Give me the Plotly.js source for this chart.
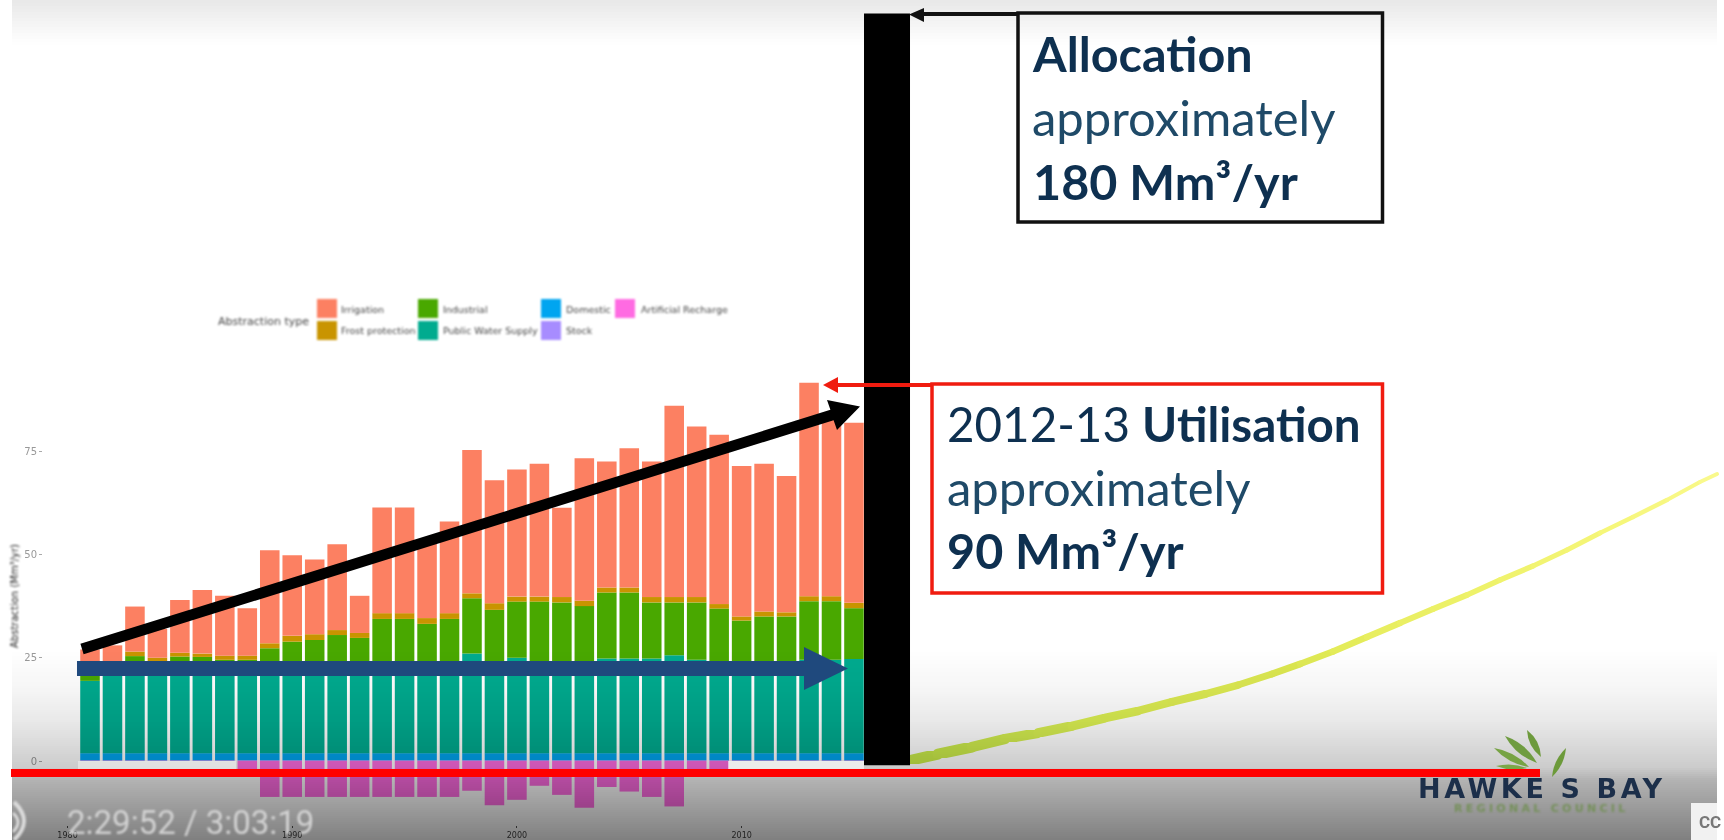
<!DOCTYPE html>
<html><head><meta charset="utf-8">
<script src="https://cdn.plot.ly/plotly-3.0.1.min.js"></script>
<style>html,body{margin:0;padding:0;background:#fff;overflow:hidden}#chart{width:1724px;height:840px}</style>
</head><body><svg id="defs" width="0" height="0" style="position:absolute"><defs></defs></svg><div id="chart"></div>
<script>
// ---- data ----
const years = [1981,1982,1983,1984,1985,1986,1987,1988,1989,1990,1991,1992,1993,1994,1995,1996,1997,1998,1999,2000,2001,2002,2003,2004,2005,2006,2007,2008,2009,2010,2011,2012,2013,2014,2015];
const stock = [0.2,0.2,0.2,0.2,0.2,0.2,0.2,0.2,0.2,0.2,0.2,0.2,0.2,0.2,0.2,0.2,0.2,0.2,0.2,0.2,0.2,0.2,0.2,0.2,0.2,0.2,0.2,0.2,0.2,0.2,0.2,0.2,0.2,0.2,0.2];
const domestic = [1.7,1.7,1.7,1.7,1.7,1.7,1.7,1.7,1.7,1.7,1.7,1.7,1.7,1.7,1.7,1.7,1.7,1.7,1.7,1.7,1.7,1.7,1.7,1.7,1.7,1.7,1.7,1.7,1.7,1.7,1.7,1.7,1.7,1.7,1.7];
const publicSupply = [17.5,20.1,20.6,20.6,21.1,21.1,21.1,19.1,21.1,21.6,22.1,22.1,22.1,22.1,22.1,22.1,22.1,24.1,22.1,23.1,22.3,22.1,22.1,22.9,22.9,22.9,23.7,22.6,22.1,22.1,22.1,22.1,22.6,22.6,22.8];
const industrial = [2.6,1,2.9,1.5,2.3,2.2,1.5,3.5,4.3,5.4,5.3,6.5,5.8,10.4,10.4,9.2,10.4,13.4,12.6,13.6,14.4,14.4,13.5,16,16,13.6,12.8,13.9,12.9,10,11,11,14.2,14.2,12.3];
const frost = [1,1,1.1,1,0.9,0.8,1,1,1.2,1.4,1.4,1.2,1.2,1.4,1.4,1.4,1.4,1.2,1.6,1.2,1.2,1.3,1.3,1.2,1.2,1.3,1.3,1.3,1.1,1,1.2,1,1.2,1.2,1.3];
const irrigation = [4,4,10.9,7,12.8,15.4,14.5,11.5,22.5,19.5,18.1,20.8,9,25.6,25.6,18.9,22.2,34.7,29.8,30.8,32.2,21.6,34.5,30.5,33.7,32.8,46.3,41.3,41,36.4,35.8,33,51.7,44.1,43.6];
const recharge = [0,0,0,0,0,0,0,-3.8,-8.7,-8.7,-8.7,-8.7,-8.7,-8.7,-8.7,-8.7,-8.7,-7.2,-10.7,-9.4,-6,-8.2,-11.3,-6.3,-7.4,-8.7,-11,-3,-2.5,0,0,0,0,0,0];
const allocationX = [2016.47,2016.47];
const allocationY = [-1,181];
const curveX = [2017.58,2018.74,2020.25,2021.72,2023.19,2024.7,2026.17,2027.64,2029.15,2030.62,2032.09,2033.6,2034.85,2036.32,2037.83,2039.3,2040.77,2042.28,2043.75,2045.22,2046.73,2048.2,2049.67,2051.18,2052.65,2053.41];
const curveY = [0.24,1.69,3.39,5.33,6.78,8.47,10.41,12.11,14.29,16.22,18.4,21.07,23.49,26.51,30.02,33.41,36.8,40.19,43.83,47.22,51.09,55.21,59.08,63.2,67.55,69.49];
const curveWidths = [11,11,10.5,10,9.5,9,8.5,8,8,7.5,7,7,6.5,6.5,6.5,6,6,5.5,5.5,5,5,4.5,4.5,4,4];
const curveColors = ['#c8ea49','#cbeb4b','#cfec4d','#d3ed4f','#d7ee51','#dbf052','#dcef52','#dded52','#ddeb52','#ddeb52','#dde952','#dde850','#e0ea55','#e4ec5a','#e8ee60','#eaef64','#ecf167','#eef26a','#f0f36e','#f2f472','#f4f576','#f6f77a','#f7f780','#f8f885','#f9f98c'];
const xTicks = [1980,1990,2000,2010];
const yTicks = [0,25,50,75];
const seriesColors = {irrigation:'#fc8062',frost:'#c99400',industrial:'#49a800',publicSupply:'#00ab8f',domestic:'#00a5f0',stock:'#a78cff',recharge:'#ff6be2'};

// ---- page pixels to paper fractions ----
const W = 1724, H = 840;
const X = p => p / W, Y = p => 1 - p / H;
const path = pts => 'M' + pts.map(q => X(q[0]).toFixed(5) + ',' + Y(q[1]).toFixed(5)).join(' L') + ' Z';
const qpath = s => s.replace(/(-?[\d.]+),(-?[\d.]+)/g, (m, a, b) => X(+a).toFixed(5) + ',' + Y(+b).toFixed(5));

const bar = (name, y, color) => ({type:'bar', name, x:years, y, marker:{color, line:{width:0}}, hoverinfo:'x+y+name'});
const traces = [
  bar('Stock', stock, seriesColors.stock),
  bar('Domestic', domestic, seriesColors.domestic),
  bar('Public Water Supply', publicSupply, seriesColors.publicSupply),
  bar('Industrial', industrial, seriesColors.industrial),
  bar('Frost protection', frost, seriesColors.frost),
  bar('Irrigation', irrigation, seriesColors.irrigation),
  bar('Artificial Recharge', recharge, seriesColors.recharge)
];
for (let i = 0; i < curveX.length - 1; i++) {
  traces.push({type:'scatter', mode:'lines', x:[curveX[i],curveX[i+1]], y:[curveY[i],curveY[i+1]],
    line:{color:curveColors[i], width:curveWidths[i]}, hoverinfo:'skip', showlegend:false});
}
traces.push({type:'scatter', mode:'lines', name:'Allocation', x:allocationX, y:allocationY, line:{color:'#000', width:46}, hoverinfo:'name'});

const shapes = [];
const shapeBlur = {};
const mark = s => { shapeBlur[shapes.length] = s; };
const paperRect = (x0,y0,x1,y1,fill,opacity) => shapes.push({type:'rect', xref:'paper', yref:'paper', layer:'above', x0:X(x0), x1:X(x1), y0:Y(y1), y1:Y(y0), fillcolor:fill, opacity:opacity===undefined?1:opacity, line:{width:0}});
const outline = (x0,y0,x1,y1,color,w) => shapes.push({type:'rect', xref:'paper', yref:'paper', layer:'above', x0:X(x0), x1:X(x1), y0:Y(y1), y1:Y(y0), fillcolor:'rgba(0,0,0,0)', line:{color, width:w}});
const poly = (pts,fill) => shapes.push({type:'path', xref:'paper', yref:'paper', layer:'above', path:path(pts), fillcolor:fill, line:{width:0}});
const curve = (d,fill,stroke,w) => shapes.push({type:'path', xref:'paper', yref:'paper', layer:'above', path:qpath(d), fillcolor:fill||'rgba(0,0,0,0)', line:stroke?{color:stroke,width:w}:{width:0}});

// video player shading
const stops = [[650,0],[687,.035],[720,.085],[767,.2],[780,.3],[840,.5]];
const alphaAt = y => { for (let i=0;i<stops.length-1;i++){const a=stops[i],b=stops[i+1]; if(y<=b[0]) return a[1]+(b[1]-a[1])*(y-a[0])/(b[0]-a[0]);} return .5; };
for (let y = 650; y < 840; y += 2) paperRect(12,y,1717,y+2,'#000',alphaAt(y+1));
for (let y = 0; y < 45; y += 3) paperRect(12,y,1717,y+3,'#000',.09*(1-(y+1.5)/45));
paperRect(78,761,236,769,'#fff',.4);
paperRect(728,761,864,769,'#fff',.6);

// legend swatches
const legendEntries = [
  ['Irrigation',seriesColors.irrigation,317,299,340],['Frost protection',seriesColors.frost,317,321,340],
  ['Industrial',seriesColors.industrial,418,299,442],['Public Water Supply',seriesColors.publicSupply,418,321,442],
  ['Domestic',seriesColors.domestic,541,299,565],['Stock',seriesColors.stock,541,321,565],
  ['Artificial Recharge',seriesColors.recharge,615,299,640]
];
legendEntries.forEach(e => { mark(1); paperRect(e[2],e[3],e[2]+20,e[3]+19,e[1]); });

// logo leaves
const leaf = (bx,by,tx,ty,w,c) => { const mx=(bx+tx)/2,my=(by+ty)/2,dx=ty-by,dy=bx-tx,l=Math.hypot(dx,dy),ox=dx/l*w,oy=dy/l*w;
  mark(.7); curve(`M${bx},${by} Q${mx+ox},${my+oy} ${tx},${ty} Q${mx-ox},${my-oy} ${bx},${by} Z`,c); };
leaf(1541,757,1527,730,7,'#6d9a3c');
leaf(1537,763,1505,736,8,'#6f9c40');
leaf(1529,767,1494,748,7,'#77a344');
leaf(1527,768,1496,766,5,'#7ba848');
leaf(1552,777,1566,748,6,'#6c9a3a');

// player controls
mark(.8); curve('M14,802 Q34,821 14,840','rgba(0,0,0,0)','#dcdcdc',4);
mark(.8); curve('M13,813 Q23,822 13,832','rgba(0,0,0,0)','#dcdcdc',3);
paperRect(1691,803,1717,840,'#f1f1f1');
paperRect(1717,803,1724,840,'#ffffff');

// annotation marks on top of the video
mark(.5); paperRect(11,769,1540,777,'#ff0000');
poly([[77,661],[804,661],[804,647],[848,668.5],[804,690],[804,676],[77,676]],'#1f497d');
mark(.6); poly([[80.4,643.8],[830.4,409.8],[827,400],[860,406.5],[837,430],[833.6,420.2],[83.6,654.2]],'#000');
mark(.5); outline(1018,13,1382.5,222,'#111',3.5);
mark(.5); poly([[1018,12],[924,12],[924,8],[909,14.5],[924,22],[924,16],[1018,16]],'#111');
mark(.5); outline(932,384,1382.5,593,'#f01c10',3.5);
mark(.5); poly([[932,383],[838,383],[838,377],[823,385],[838,393],[838,387],[932,387]],'#f01c10');

const annotations = [];
const blurBy = {}, spacingBy = {};
const txt = (text,x,y,size,color,family,opts) => {
  const o = opts || {};
  if (o.blur) blurBy[annotations.length] = o.blur;
  if (o.spacing) spacingBy[annotations.length] = o.spacing;
  annotations.push({xref:'paper',yref:'paper',x:X(x),y:Y(y),text,showarrow:false,xanchor:o.anchor||'left',yanchor:'middle',
    align:'left',borderpad:0,textangle:o.angle||0,font:{size,color,family}});
};
const dv = '"DejaVu Sans", sans-serif', la = 'Lato, sans-serif';
const navy = '#0e3050', navy2 = '#1f4a68';
txt('Abstraction type',217,321,11,'#444',dv,{blur:.9});
legendEntries.forEach(e => txt(e[0],e[4],e[3]+10,9.5,'#444',dv,{blur:.9}));
txt('Abstraction (Mm³/yr)',14,596,10,'#222',dv,{blur:1,angle:-90,anchor:'center'});
txt('<b>Allocation</b>',1031,52.5,48.5,navy,la,{blur:.6});
txt('approximately',1031,117,49,navy2,la,{blur:.6});
txt('<b>180 Mm³/yr</b>',1032,181,48.5,navy,la,{blur:.6});
txt('2012-13 <b>Utilisation</b>',946,423,47.5,navy,la,{blur:.6});
txt('approximately',946,487,49,navy2,la,{blur:.6});
txt('<b>90 Mm³/yr</b>',946,550,48.5,navy,la,{blur:.6});
txt('2:29:52 / 3:03:19',66,822,33,'#d2d2d2','Roboto, sans-serif',{blur:.8});
txt('<b>HAWKE S BAY</b>',1417,788,27,'#1c2f4a',dv,{blur:.7,spacing:'3.6px'});
txt('<b>REGIONAL COUNCIL</b>',1453,808,11,'#75905a',dv,{blur:.9,spacing:'3.3px'});
txt('<b>CC</b>',1698,822,17,'#777','Roboto, sans-serif',{blur:.6});

const x0px = 43, bottomPx = 825;
const layout = {
  width:W, height:H, margin:{l:0,r:0,t:0,b:0}, paper_bgcolor:'#fff', plot_bgcolor:'rgba(0,0,0,0)',
  barmode:'relative', bargap:0.13, showlegend:false, hovermode:'closest',
  xaxis:{domain:[X(x0px),1], range:[1978.908,2053.72], tickmode:'array', tickvals:xTicks, ticktext:xTicks.map(String),
    ticks:'outside', ticklen:2, tickcolor:'#555', tickwidth:1, tickfont:{size:8,color:'#444',family:dv},
    showgrid:false, zeroline:false, showline:false, anchor:'y'},
  yaxis:{domain:[1-bottomPx/H,1], range:[(761-bottomPx)/4.13,184.26], tickmode:'array', tickvals:yTicks, ticktext:yTicks.map(String),
    ticks:'outside', ticklen:3, tickcolor:'#aaa', tickwidth:1, tickfont:{size:10,color:'#999',family:dv},
    showgrid:false, zeroline:false, showline:false, anchor:'x'},
  shapes, annotations
};
Plotly.newPlot('chart', traces, layout, {displayModeBar:false, staticPlot:true}).then(() => {
  const defs = document.querySelector('#defs defs');
  const made = {};
  const fid = s => { const id = 'b' + Math.round(s*100);
    if (!made[id]) { made[id] = 1;
      const f = document.createElementNS('http://www.w3.org/2000/svg','filter');
      f.setAttribute('id', id); f.setAttribute('x','-50%'); f.setAttribute('y','-50%'); f.setAttribute('width','200%'); f.setAttribute('height','200%');
      f.setAttribute('color-interpolation-filters','sRGB');
      const g = document.createElementNS('http://www.w3.org/2000/svg','feGaussianBlur');
      g.setAttribute('stdDeviation', s); f.appendChild(g); defs.appendChild(f); }
    return 'url(#' + id + ')'; };
  const blur = (el,s) => el && el.setAttribute('filter', fid(s));
  document.querySelectorAll('.barlayer').forEach(e => blur(e,.7));
  document.querySelectorAll('.xtick text,.ytick text').forEach(e => blur(e,.7));
  const lineTraces = document.querySelectorAll('.scatterlayer .trace');
  lineTraces.forEach((e,i) => { if (i < lineTraces.length - 1) { blur(e,.7);
    e.querySelectorAll('path').forEach(p => p.style.strokeLinecap='round'); } });
  Object.keys(blurBy).forEach(i => blur(document.querySelector(`.annotation[data-index="${i}"]`), blurBy[i]));
  Object.keys(spacingBy).forEach(i => { const t = document.querySelector(`.annotation[data-index="${i}"] text`); if (t) t.style.letterSpacing = spacingBy[i]; });
  Object.keys(shapeBlur).forEach(i => { const e = document.querySelector(`.layer-above .shapelayer path[data-index="${i}"]`); blur(e, shapeBlur[i]); });
});
</script></body></html>
